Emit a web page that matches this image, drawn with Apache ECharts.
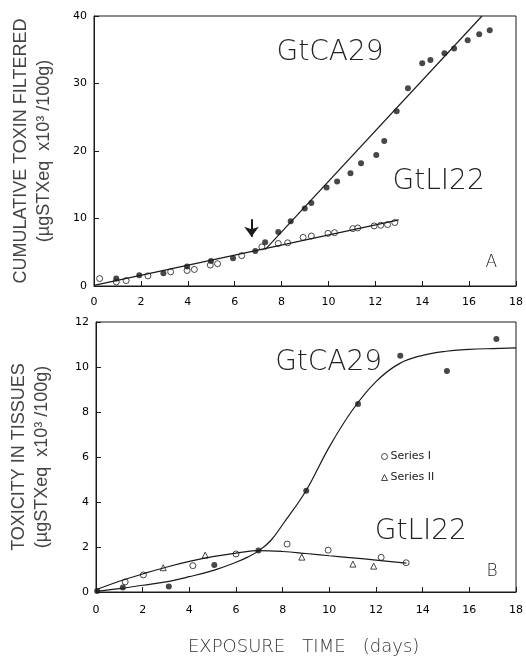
<!DOCTYPE html>
<html lang="en">
<head>
    <meta charset="UTF-8">
    <script src="https://cdn.jsdelivr.net/npm/echarts@6/dist/echarts.min.js"></script>
    <style>
        html, body { margin: 0; padding: 0; background: #fff; }
        #chart { width: 526px; height: 657px; }
    </style>
</head>
<body>
<div id="chart"></div>
<script type="text/javascript">

    // ---- panel A : cumulative toxin filtered ----
    // filled dots, GtCA29
    let filteredCA29 = [
        [0.95, 1.1], [1.93, 1.6], [2.96, 1.9], [3.97, 2.9], [4.99, 3.7], [5.93, 4.1],
        [6.88, 5.2], [7.3, 6.5], [7.86, 8.0], [8.39, 9.6], [8.99, 11.5], [9.27, 12.3],
        [9.92, 14.6], [10.37, 15.5], [10.94, 16.7], [11.39, 18.2], [12.04, 19.4],
        [12.38, 21.5], [12.91, 25.9], [13.39, 29.3], [14.0, 33.0], [14.35, 33.5],
        [14.95, 34.5], [15.36, 35.2], [15.94, 36.4], [16.43, 37.3], [16.88, 37.9]
    ];
    // open circles, GtLI22
    let filteredLI22 = [
        [0.24, 1.1], [0.95, 0.6], [1.37, 0.8], [2.3, 1.5], [3.27, 2.1], [3.97, 2.3],
        [4.28, 2.45], [4.96, 3.1], [5.27, 3.3], [6.3, 4.5], [7.16, 5.8], [7.86, 6.3],
        [8.26, 6.4], [8.92, 7.2], [9.27, 7.4], [9.98, 7.8], [10.26, 7.9], [11.04, 8.5],
        [11.25, 8.6], [11.95, 8.9], [12.23, 9.0], [12.52, 9.1], [12.83, 9.4]
    ];
    // fitted straight lines
    let fitLI22A = [[0, 0.1], [13, 9.8]];
    let fitCA29A = [[7.3, 5.4], [16.55, 40]];
    // arrow marking the switch day
    let arrowA = [[6.72, 9.9], [6.72, 7.3]];

    // ---- panel B : toxicity in tissues ----
    let tissueCA29 = [
        [0.05, 0.05], [1.15, 0.2], [3.12, 0.25], [5.07, 1.2], [6.96, 1.84],
        [9.01, 4.5], [11.23, 8.36], [13.04, 10.5], [15.04, 9.82], [17.16, 11.24]
    ];
    let tissueSeriesI = [
        [1.25, 0.45], [2.03, 0.76], [4.15, 1.17], [6.0, 1.69], [8.19, 2.13],
        [9.95, 1.86], [12.22, 1.54], [13.29, 1.3]
    ];
    let tissueSeriesII = [
        [2.88, 1.08], [4.68, 1.64], [8.82, 1.55], [11.01, 1.24], [11.9, 1.15]
    ];
    // fitted curves
    let curveCA29B = [
        [0, 0.03], [1, 0.15], [2, 0.3], [3, 0.45], [4, 0.68], [5, 0.95], [6, 1.32],
        [6.5, 1.55], [7, 1.85], [7.5, 2.3], [8, 3.0], [9, 4.5], [10, 6.45], [11, 8.1],
        [12, 9.35], [13, 10.15], [14, 10.52], [15, 10.7], [16, 10.78], [17, 10.82], [18, 10.85]
    ];
    let curveLI22B = [
        [0, 0.1], [1, 0.48], [2, 0.8], [3, 1.1], [4, 1.36], [5, 1.57], [6, 1.73],
        [7, 1.84], [8, 1.8], [9, 1.71], [10, 1.61], [11, 1.52], [12, 1.42], [13.3, 1.28]
    ];

    // text annotations [x, y, text]
    let labelsA = [[10.07, 34.5, 'GtCA29'], [14.7, 15.4, 'GtLI22'], [16.95, 3.4, 'A']];
    let labelsB = [[9.97, 10.2, 'GtCA29'], [13.92, 2.67, 'GtLI22'], [16.97, 0.89, 'B']];

    let ink = '#1a1a1a';
    let font = 'DejaVu Sans';

    function xAxisFor(gridIndex, margin) {
        return {
            gridIndex: gridIndex, type: 'value', min: 0, max: 18, interval: 2,
            axisLine: { lineStyle: { color: ink, width: 1 } },
            axisTick: { inside: true, length: 5, lineStyle: { color: ink } },
            axisLabel: { margin: margin, color: '#000', fontSize: 11, fontFamily: font },
            splitLine: { show: false }
        };
    }

    function yAxisFor(gridIndex, max, interval, name, gap) {
        return {
            gridIndex: gridIndex, type: 'value', min: 0, max: max, interval: interval,
            name: name, nameLocation: 'middle', nameRotate: 90, nameGap: gap,
            nameTextStyle: { color: '#444', fontSize: 18, fontFamily: 'Liberation Sans', lineHeight: 23 },
            axisLine: { lineStyle: { color: ink, width: 1 } },
            axisTick: { inside: true, length: 5, lineStyle: { color: ink } },
            axisLabel: { margin: 7, color: '#000', fontSize: 11, fontFamily: font },
            splitLine: { show: false }
        };
    }

    function labelPoints(list, big) {
        return list.map(function (l) {
            return {
                coord: [l[0], l[1]],
                label: { formatter: l[2], fontSize: l[2].length > 1 ? big : 17 }
            };
        });
    }

    function markLabels(list, big) {
        return {
            symbol: 'circle', symbolSize: 0, silent: true,
            label: {
                show: true, position: 'inside', color: '#222',
                fontFamily: font, fontWeight: 200
            },
            data: labelPoints(list, big)
        };
    }

    let openStyle = { color: '#fff', borderColor: ink, borderWidth: 1 };

    let chart = echarts.init(document.getElementById('chart'), null, { renderer: 'canvas' });

    let option = {
        animation: false,
        backgroundColor: '#fff',
        grid: [
            { left: 94, top: 16, width: 424, height: 270, show: true, borderColor: ink, borderWidth: 1 },
            { left: 94, top: 322, width: 423, height: 270, show: true, borderColor: ink, borderWidth: 1 }
        ],
        xAxis: [xAxisFor(0, 11), xAxisFor(1, 13)],
        yAxis: [
            yAxisFor(0, 40, 10, 'CUMULATIVE TOXIN FILTERED\n(\u00b5gSTXeq  x10\u00b3 /100g)', 38),
            yAxisFor(1, 12, 2, 'TOXICITY IN TISSUES\n(\u00b5gSTXeq  x10\u00b3 /100g)', 42)
        ],
        graphic: [{
            type: 'text', left: 188, top: 638,
            style: {
                text: 'EXPOSURE   TIME   (days)', fill: '#333',
                fontSize: 18, fontFamily: font, fontWeight: 200
            }
        }],
        legend: {
            orient: 'vertical', left: 376, top: 446, itemWidth: 6, itemHeight: 6, itemGap: 10,
            selectedMode: false,
            itemStyle: { borderWidth: 1 },
            textStyle: { fontSize: 11, fontFamily: font, color: '#222', padding: [0, 0, 0, -2] },
            data: ['Series I', 'Series II']
        },
        series: [
            {
                type: 'line', xAxisIndex: 0, yAxisIndex: 0, data: fitLI22A,
                showSymbol: false, lineStyle: { color: ink, width: 1.2 },
                markPoint: markLabels(labelsA, 28)
            },
            {
                type: 'line', xAxisIndex: 0, yAxisIndex: 0, data: fitCA29A,
                showSymbol: false, lineStyle: { color: ink, width: 1.2 },
                markLine: {
                    silent: true, symbol: ['none', 'arrow'], symbolSize: [11, 10],
                    lineStyle: { color: ink, width: 2, type: 'solid' },
                    label: { show: false },
                    data: [[{ coord: arrowA[0] }, { coord: arrowA[1] }]]
                }
            },
            {
                type: 'scatter', xAxisIndex: 0, yAxisIndex: 0, data: filteredLI22,
                symbol: 'circle', symbolSize: 6, itemStyle: openStyle
            },
            {
                type: 'scatter', xAxisIndex: 0, yAxisIndex: 0, data: filteredCA29,
                symbol: 'circle', symbolSize: 6, itemStyle: { color: ink }
            },
            {
                type: 'line', xAxisIndex: 1, yAxisIndex: 1, data: curveCA29B,
                smooth: 0.4, showSymbol: false, lineStyle: { color: ink, width: 1.2 },
                markPoint: markLabels(labelsB, 28)
            },
            {
                type: 'line', xAxisIndex: 1, yAxisIndex: 1, data: curveLI22B,
                smooth: 0.4, showSymbol: false, lineStyle: { color: ink, width: 1.2 }
            },
            {
                name: 'Series I', type: 'scatter', xAxisIndex: 1, yAxisIndex: 1, data: tissueSeriesI,
                symbol: 'circle', symbolSize: 6, itemStyle: openStyle
            },
            {
                name: 'Series II', type: 'scatter', xAxisIndex: 1, yAxisIndex: 1, data: tissueSeriesII,
                symbol: 'triangle', symbolSize: 6, itemStyle: openStyle
            },
            {
                type: 'scatter', xAxisIndex: 1, yAxisIndex: 1, data: tissueCA29,
                symbol: 'circle', symbolSize: 6, itemStyle: { color: ink }
            }
        ]
    };

    chart.setOption(option);

</script>
</body>
</html>
